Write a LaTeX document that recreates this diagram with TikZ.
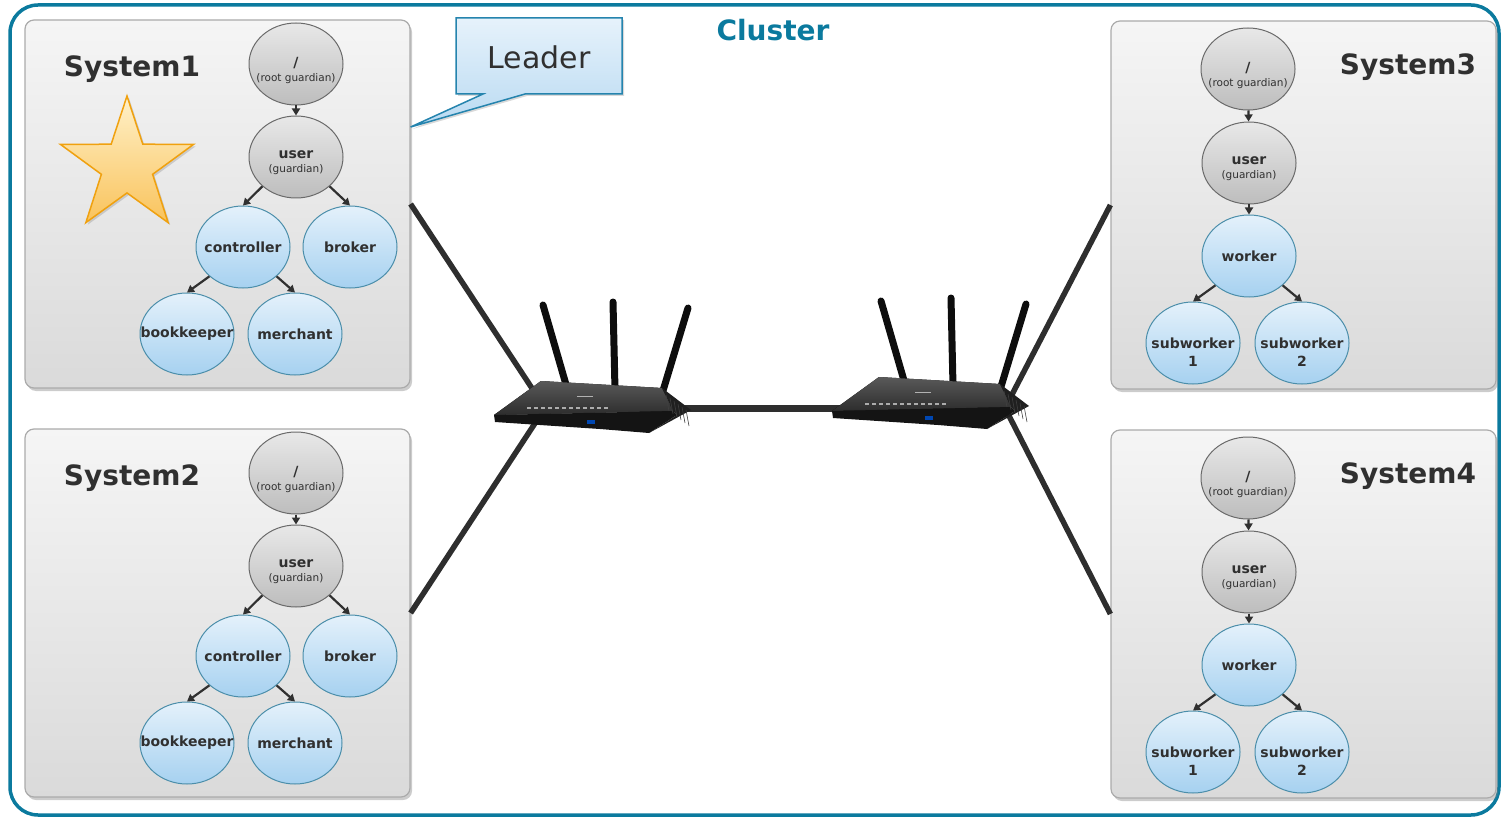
\documentclass[tikz,border=0pt]{standalone}
\usepackage{fontspec}
\setmainfont{DejaVu Sans}
\usetikzlibrary{shapes.geometric,arrows.meta,shadows}

\definecolor{clusterblue}{HTML}{0B7A9E}
\definecolor{boxedge}{HTML}{ABABAB}
\definecolor{boxtop}{HTML}{F5F5F5}
\definecolor{boxbot}{HTML}{DADADA}
\definecolor{guardtop}{HTML}{E8E8E8}
\definecolor{guardbot}{HTML}{BDBDBD}
\definecolor{guardedge}{HTML}{6A6A6A}
\definecolor{actortop}{HTML}{E4F1FB}
\definecolor{actorbot}{HTML}{A6D1F0}
\definecolor{actoredge}{HTML}{4B8EAA}
\definecolor{textgray}{HTML}{303030}
\definecolor{wiregray}{HTML}{2E2E2E}
\definecolor{startop}{HTML}{FFF1C9}
\definecolor{starbot}{HTML}{F9C35C}
\definecolor{staredge}{HTML}{F0A10F}
\definecolor{calltop}{HTML}{E6F2FB}
\definecolor{callbot}{HTML}{B9DAF2}
\definecolor{calledge}{HTML}{2584AE}

% labels inside the ellipses may stick out, the ellipse keeps its size
\newcommand{\guardnote}[1]{{\mdseries\fontsize{10.5}{11}\selectfont #1}}
\newcommand{\solo}[1]{\makebox[0pt]{#1}}
\newcommand{\ring}[4][-1pt]{\raisebox{#2}[0pt][0pt]{\makebox[0pt]{\begin{tabular}{@{}c@{}}#3\\[#1]#4\end{tabular}}}}

\tikzset{
  router/.pic={
    % antennas
    \draw[line width=7pt, line cap=round, black!95] (-44,-103) -- (-20,-20);
    \draw[line width=7pt, line cap=round, black!95] (26,-106) -- (28,-18);
    \draw[line width=7pt, line cap=round, black!95] (101,-100) -- (75,-14);
    % body
    \fill[top color=gray!70!black, bottom color=gray!35!black] (-93,7) -- (-46,-27) -- (75,-20) -- (86,3) -- cycle;
    \fill[black!92] (-93,7) -- (86,3) -- (90,7) -- (62,25) -- (13,21) -- (-92,14) -- cycle;
    \fill[black!88] (75,-20) -- (104,2) -- (62,25) -- (90,7) -- (86,3) -- cycle;
    \foreach \k in {0,...,5}
      \draw[gray!50!black, line width=0.6pt] (79+4*\k,-13+3*\k) -- (82+4*\k,3+3*\k);
    \foreach \k in {0,...,11}
      \draw[gray!65, line width=1.4pt] (-60+7*\k,0) -- (-56+7*\k,0);
    \draw[gray!60, line width=0.8pt] (-10,-12) -- (6,-12);
    \fill[blue!60!cyan!70!black] (0,12) rectangle (8,16);
  }
}

\begin{document}
\begin{tikzpicture}[x=1pt, y=-1pt,
    sysbox/.style={draw=boxedge, line width=1.2pt, rounded corners=9pt,
      top color=boxtop, bottom color=boxbot, minimum width=385pt, minimum height=368pt,
      drop shadow={opacity=0.4, shadow xshift=2pt, shadow yshift=-3pt}},
    systitle/.style={font=\bfseries\fontsize{28}{30}\selectfont, text=textgray},
    guard/.style={ellipse, draw=guardedge, line width=1pt, top color=guardtop, bottom color=guardbot,
      minimum width=94pt, minimum height=82pt, inner sep=0pt, text=textgray,
      font=\bfseries\fontsize{14}{15}\selectfont},
    actor/.style={guard, draw=actoredge, top color=actortop, bottom color=actorbot},
    link/.style={-{Triangle[length=7pt,width=8pt]}, line width=2.2pt, draw=textgray},
    wire/.style={line width=5.5pt, draw=wiregray}]
  \useasboundingbox (0,0) rectangle (1501,818);

  \draw[clusterblue, line width=3.5pt, rounded corners=28pt] (10,5) rectangle (1499,815);
  \node[font=\bfseries\fontsize{28}{30}\selectfont, text=clusterblue] (cluster) at (773,30) {Cluster};

  % systems with controller / broker
  \foreach \s/\dy in {1/0,2/409}{
    \node[sysbox] (sys\s) at (217.5,204+\dy) {};
    \node[systitle] (title\s) at (132,69+\dy) {System\s};
    \node[guard] (root\s) at (296,64+\dy) {\ring{-11pt}{/}{\guardnote{(root guardian)}}};
    \node[guard] (user\s) at (296,157+\dy) {\ring{-9pt}{user}{\guardnote{(guardian)}}};
    \node[actor] (ctrl\s) at (243,247+\dy) {\solo{controller}};
    \node[actor] (brk\s) at (350,247+\dy) {\solo{broker}};
    \node[actor] (book\s) at (187,334+\dy) {\solo{bookkeeper}};
    \node[actor] (merch\s) at (295,334+\dy) {\solo{merchant}};
    \draw[link] (root\s) -- (user\s);
    \draw[link] (user\s.south west) -- (ctrl\s.north);
    \draw[link] (user\s.south east) -- (brk\s.north);
    \draw[link] (ctrl\s.south west) -- (book\s.north);
    \draw[link] (ctrl\s.south east) -- (merch\s.north);
  }

  % systems with workers
  \foreach \s/\dy in {3/0,4/409}{
    \node[sysbox] (sys\s) at (1303.5,205+\dy) {};
    \node[systitle] (title\s) at (1408,67+\dy) {System\s};
    \node[guard] (root\s) at (1248,69+\dy) {\ring{-11pt}{/}{\guardnote{(root guardian)}}};
    \node[guard] (user\s) at (1249,163+\dy) {\ring{-9pt}{user}{\guardnote{(guardian)}}};
    \node[actor] (work\s) at (1249,256+\dy) {\solo{worker}};
    \node[actor] (subA\s) at (1193,343+\dy) {\ring[3pt]{-15pt}{subworker}{1}};
    \node[actor] (subB\s) at (1302,343+\dy) {\ring[3pt]{-15pt}{subworker}{2}};
    \draw[link] (root\s) -- (user\s);
    \draw[link] (user\s) -- (work\s);
    \draw[link] (work\s.south west) -- (subA\s.north);
    \draw[link] (work\s.south east) -- (subB\s.north);
  }

  % leader mark
  \node[star, star points=5, star point ratio=2.6, minimum size=140pt, inner sep=0pt,
    draw=staredge, line width=1.5pt, top color=startop, bottom color=starbot,
    drop shadow={opacity=0.3, shadow xshift=2pt, shadow yshift=-2pt}] (star) at (127,166) {};
  \coordinate (tip) at (sys1.east |- 0,127);
  \path[draw=calledge, line width=1.5pt, top color=calltop, bottom color=callbot,
    drop shadow={opacity=0.3, shadow xshift=2pt, shadow yshift=-2pt}]
    (456,18) -- (622,18) -- (622,94) -- (525,94) -- (tip) -- (483,94) -- (456,94) -- cycle;
  \node[font=\fontsize{30}{34}\selectfont, text=textgray] (leader) at (539,57) {Leader};

  % network
  \coordinate (hub1) at (545,408);
  \coordinate (hub2) at (1005,408);
  \draw[wire] (sys1.east) -- (hub1);
  \draw[wire] (sys2.east) -- (hub1);
  \draw[wire] (sys3.west) -- (hub2);
  \draw[wire] (sys4.west) -- (hub2);
  \draw[wire, line width=7pt] (hub1) -- (hub2);
  \pic at (587,408) {router};
  \pic at (925,404) {router};
\end{tikzpicture}
\end{document}
